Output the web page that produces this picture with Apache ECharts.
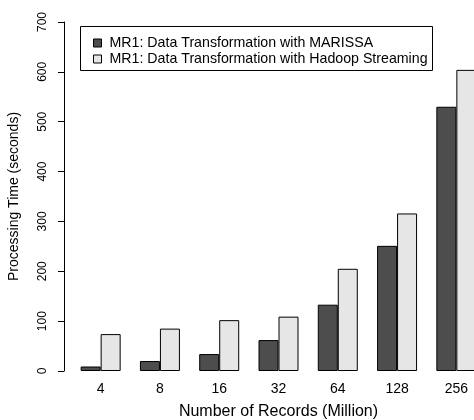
<!DOCTYPE html>
<html>
<head>
<meta charset="utf-8">
<script src="https://cdn.jsdelivr.net/npm/echarts@6/dist/echarts.min.js"></script>
<style>html,body{margin:0;padding:0;background:#fff}#c{width:474px;height:420px}</style>
</head>
<body>
<div id="c"></div>
<script>
const categories = ['4', '8', '16', '32', '64', '128', '256'];
const marissa = [9, 20, 34, 62, 133, 251, 530];
const hadoop = [74, 85, 102, 109, 205, 316, 604];
const seriesNames = ['MR1: Data Transformation with MARISSA', 'MR1: Data Transformation with Hadoop Streaming'];
const yTicks = [0, 100, 200, 300, 400, 500, 600, 700];

const FONT = '"Liberation Sans", Arial, Helvetica, sans-serif';
const chart = echarts.init(document.getElementById('c'), null, {renderer: 'canvas'});
chart.setOption({
  animation: false,
  backgroundColor: '#fff',
  textStyle: {fontFamily: FONT, color: '#000'},
  grid: {left: 71, width: 415, top: 22, height: 349, containLabel: false, outerBoundsMode: 'none'},
  graphic: [{
    type: 'rect', z: 0,
    shape: {x: 80.5, y: 26.5, width: 352, height: 44},
    style: {fill: '#fff', stroke: '#000', lineWidth: 1}
  }],
  legend: {
    orient: 'vertical', left: 93, top: 35, padding: 0, itemGap: 0,
    itemWidth: 8, itemHeight: 8, icon: 'rect', z: 5,
    itemStyle: {borderColor: '#000', borderWidth: 1},
    textStyle: {fontFamily: FONT, fontSize: 14.2, color: '#000', lineHeight: 16, padding: [0, 0, 0, 3]},
    data: seriesNames
  },
  xAxis: {
    type: 'category', data: categories,
    axisLine: {show: false}, axisTick: {show: false},
    axisLabel: {fontSize: 14, color: '#000', margin: 11, fontFamily: FONT},
    name: 'Number of Records (Million)', nameLocation: 'middle', nameGap: 33,
    nameTextStyle: {fontSize: 16, color: '#000', fontFamily: FONT}
  },
  yAxis: {
    type: 'value', min: yTicks[0], max: yTicks[yTicks.length - 1], interval: 100,
    offset: 7,
    splitLine: {show: false},
    axisLine: {show: true, lineStyle: {color: '#000', width: 1}},
    axisTick: {show: true, length: 6, lineStyle: {color: '#000'}},
    axisLabel: {rotate: 90, fontSize: 12, color: '#000', margin: 15, fontFamily: FONT},
    name: 'Processing Time (seconds)', nameLocation: 'middle', nameGap: 43,
    nameTextStyle: {fontSize: 14, color: '#000', fontFamily: FONT}
  },
  series: [
    {name: seriesNames[0], type: 'bar', data: marissa, barWidth: 20, barGap: '0%',
     itemStyle: {color: '#4d4d4d', borderColor: '#000', borderWidth: 1}},
    {name: seriesNames[1], type: 'bar', data: hadoop, barWidth: 20, barGap: '0%',
     itemStyle: {color: '#e6e6e6', borderColor: '#000', borderWidth: 1}}
  ]
});
</script>
</body>
</html>
